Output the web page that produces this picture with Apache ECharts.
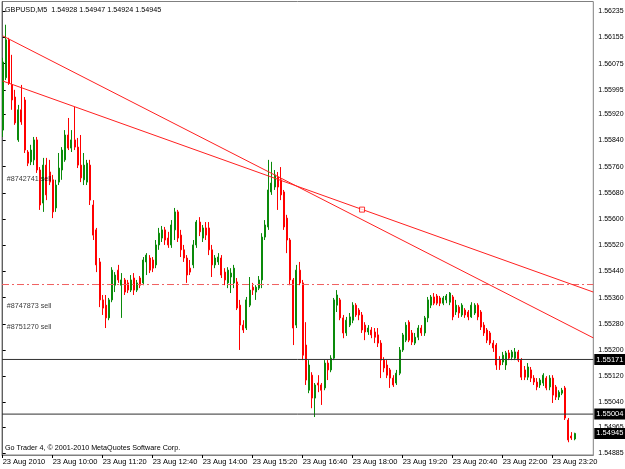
<!DOCTYPE html>
<html><head><meta charset="utf-8">
<script src="https://cdn.jsdelivr.net/npm/echarts@6/dist/echarts.min.js"></script>
<style>html,body{margin:0;padding:0;background:#fff}#c{width:625px;height:469px}</style>
</head><body><div id="c"></div>
<script>
const symbolName = "GBPUSD,M5";
const opens = [
1.55872,1.56032,1.56148,1.56010,1.55973,1.55842,1.55934,1.55964,1.55805,1.55775,
1.55781,1.55842,1.55750,1.55649,1.55765,1.55744,1.55720,1.55634,1.55713,1.55750,
1.55781,1.55857,1.55817,1.55842,1.55820,1.55765,1.55720,1.55713,1.55765,1.55643,
1.55567,1.55469,1.55353,1.55337,1.55298,1.55353,1.55398,1.55444,1.55398,1.55414,
1.55405,1.55383,1.55420,1.55383,1.55420,1.55405,1.55469,1.55481,1.55475,1.55460,
1.55521,1.55542,1.55567,1.55542,1.55521,1.55567,1.55622,1.55551,1.55506,1.55481,
1.55450,1.55460,1.55521,1.55591,1.55542,1.55573,1.55573,1.55506,1.55460,1.55469,
1.55481,1.55438,1.55405,1.55423,1.55405,1.55408,1.55337,1.55276,1.55267,1.55337,
1.55392,1.55377,1.55389,1.55414,1.55545,1.55576,1.55683,1.55698,1.55729,1.55720,
1.55683,1.55603,1.55536,1.55414,1.55276,1.55444,1.55405,1.55215,1.55077,1.55123,
1.55053,1.55099,1.55093,1.55084,1.55160,1.55139,1.55175,1.55337,1.55353,1.55298,
1.55252,1.55276,1.55291,1.55337,1.55322,1.55307,1.55276,1.55255,1.55261,1.55255,
1.55246,1.55221,1.55169,1.55154,1.55139,1.55114,1.55099,1.55129,1.55200,1.55230,
1.55285,1.55252,1.55221,1.55239,1.55267,1.55252,1.55298,1.55337,1.55362,1.55365,
1.55359,1.55343,1.55353,1.55346,1.55362,1.55316,1.55331,1.55307,1.55322,1.55316,
1.55301,1.55313,1.55337,1.55316,1.55276,1.55261,1.55252,1.55221,1.55215,1.55169,
1.55163,1.55154,1.55191,1.55178,1.55175,1.55194,1.55169,1.55139,1.55117,1.55139,
1.55114,1.55102,1.55093,1.55099,1.55114,1.55087,1.55114,1.55087,1.55056,1.55068,
1.55084,1.54986,1.54937,1.54928];
const closes = [
1.56080,1.56148,1.56016,1.55964,1.55894,1.55934,1.55897,1.55811,1.55771,1.55811,
1.55842,1.55750,1.55643,1.55765,1.55674,1.55713,1.55622,1.55704,1.55756,1.55811,
1.55857,1.55817,1.55842,1.55820,1.55765,1.55726,1.55765,1.55771,1.55658,1.55551,
1.55460,1.55353,1.55328,1.55298,1.55353,1.55444,1.55429,1.55414,1.55414,1.55377,
1.55383,1.55414,1.55383,1.55405,1.55398,1.55475,1.55490,1.55444,1.55450,1.55521,
1.55557,1.55567,1.55536,1.55521,1.55582,1.55622,1.55542,1.55506,1.55481,1.55429,
1.55438,1.55521,1.55591,1.55561,1.55573,1.55551,1.55506,1.55460,1.55481,1.55484,
1.55429,1.55414,1.55444,1.55435,1.55450,1.55328,1.55276,1.55261,1.55353,1.55383,
1.55383,1.55392,1.55414,1.55545,1.55582,1.55689,1.55710,1.55735,1.55698,1.55674,
1.55576,1.55536,1.55414,1.55267,1.55444,1.55405,1.55184,1.55108,1.55154,1.55053,
1.55093,1.55093,1.55077,1.55160,1.55139,1.55175,1.55353,1.55368,1.55298,1.55252,
1.55291,1.55301,1.55337,1.55307,1.55307,1.55261,1.55255,1.55267,1.55246,1.55239,
1.55221,1.55169,1.55145,1.55123,1.55114,1.55093,1.55129,1.55200,1.55246,1.55276,
1.55230,1.55224,1.55239,1.55267,1.55252,1.55298,1.55353,1.55362,1.55343,1.55343,
1.55343,1.55359,1.55365,1.55374,1.55301,1.55337,1.55313,1.55337,1.55307,1.55301,
1.55337,1.55337,1.55301,1.55270,1.55252,1.55230,1.55221,1.55206,1.55154,1.55154,
1.55184,1.55191,1.55175,1.55194,1.55194,1.55169,1.55117,1.55117,1.55148,1.55114,
1.55102,1.55087,1.55108,1.55123,1.55084,1.55114,1.55062,1.55056,1.55071,1.55077,
1.54992,1.54925,1.54931,1.54945];
const lows = [
1.55851,1.56025,1.56010,1.55934,1.55888,1.55836,1.55888,1.55802,1.55762,1.55765,
1.55765,1.55741,1.55628,1.55622,1.55658,1.55704,1.55603,1.55622,1.55704,1.55720,
1.55775,1.55811,1.55805,1.55811,1.55756,1.55713,1.55704,1.55704,1.55643,1.55536,
1.55438,1.55331,1.55307,1.55267,1.55291,1.55346,1.55377,1.55405,1.55298,1.55368,
1.55374,1.55377,1.55368,1.55377,1.55389,1.55398,1.55429,1.55435,1.55438,1.55450,
1.55506,1.55530,1.55521,1.55512,1.55512,1.55536,1.55530,1.55484,1.55469,1.55405,
1.55429,1.55450,1.55512,1.55548,1.55530,1.55536,1.55490,1.55423,1.55450,1.55460,
1.55420,1.55398,1.55389,1.55374,1.55389,1.55322,1.55200,1.55252,1.55261,1.55331,
1.55368,1.55353,1.55383,1.55389,1.55536,1.55567,1.55674,1.55689,1.55628,1.55658,
1.55567,1.55496,1.55398,1.55215,1.55267,1.55398,1.55169,1.55093,1.55068,1.55022,
1.54995,1.55071,1.55032,1.55077,1.55108,1.55132,1.55169,1.55316,1.55291,1.55236,
1.55243,1.55270,1.55282,1.55301,1.55291,1.55252,1.55230,1.55246,1.55236,1.55221,
1.55209,1.55114,1.55132,1.55114,1.55084,1.55087,1.55093,1.55123,1.55194,1.55224,
1.55224,1.55215,1.55215,1.55230,1.55243,1.55243,1.55285,1.55328,1.55337,1.55337,
1.55334,1.55337,1.55343,1.55337,1.55291,1.55307,1.55298,1.55301,1.55298,1.55291,
1.55298,1.55307,1.55291,1.55261,1.55243,1.55221,1.55215,1.55194,1.55139,1.55139,
1.55154,1.55139,1.55169,1.55169,1.55169,1.55163,1.55108,1.55108,1.55108,1.55102,
1.55093,1.55077,1.55084,1.55090,1.55077,1.55077,1.55038,1.55047,1.55047,1.55062,
1.54986,1.54918,1.54925,1.54924];
const highs = [
1.56093,1.56194,1.56154,1.56102,1.55995,1.55949,1.56010,1.55973,1.55811,1.55827,
1.55851,1.55851,1.55759,1.55787,1.55787,1.55781,1.55735,1.55720,1.55802,1.55820,
1.55872,1.55909,1.55872,1.55943,1.55848,1.55857,1.55802,1.55781,1.55781,1.55658,
1.55573,1.55481,1.55368,1.55368,1.55359,1.55453,1.55438,1.55460,1.55435,1.55420,
1.55414,1.55429,1.55435,1.55414,1.55426,1.55484,1.55496,1.55490,1.55484,1.55536,
1.55573,1.55579,1.55576,1.55561,1.55597,1.55634,1.55628,1.55567,1.55521,1.55490,
1.55475,1.55536,1.55597,1.55606,1.55582,1.55591,1.55591,1.55521,1.55490,1.55496,
1.55490,1.55450,1.55453,1.55450,1.55460,1.55420,1.55353,1.55291,1.55362,1.55423,
1.55405,1.55398,1.55426,1.55557,1.55597,1.55781,1.55775,1.55750,1.55744,1.55759,
1.55689,1.55613,1.55542,1.55420,1.55460,1.55469,1.55414,1.55285,1.55169,1.55132,
1.55099,1.55123,1.55099,1.55169,1.55169,1.55184,1.55359,1.55383,1.55359,1.55307,
1.55301,1.55313,1.55346,1.55343,1.55328,1.55316,1.55285,1.55276,1.55270,1.55267,
1.55267,1.55230,1.55178,1.55169,1.55145,1.55123,1.55139,1.55209,1.55252,1.55285,
1.55291,1.55261,1.55252,1.55276,1.55276,1.55304,1.55362,1.55368,1.55374,1.55371,
1.55365,1.55365,1.55371,1.55377,1.55368,1.55353,1.55337,1.55343,1.55328,1.55322,
1.55346,1.55343,1.55343,1.55322,1.55285,1.55267,1.55258,1.55230,1.55221,1.55181,
1.55194,1.55197,1.55200,1.55200,1.55206,1.55200,1.55175,1.55151,1.55160,1.55148,
1.55123,1.55114,1.55114,1.55129,1.55120,1.55123,1.55123,1.55093,1.55077,1.55084,
1.55090,1.54992,1.54949,1.54947];

const xTickIndex = [0,16,32,48,64,80,96,112,128,144,160,176];
const xTickLabels = ["23 Aug 2010","23 Aug 10:00","23 Aug 11:20","23 Aug 12:40","23 Aug 14:00","23 Aug 15:20",
  "23 Aug 16:40","23 Aug 18:00","23 Aug 19:20","23 Aug 20:40","23 Aug 22:00","23 Aug 23:20"];
const yTickValues = [1.56235,1.56155,1.56075,1.55995,1.55920,1.55840,1.55760,1.55680,1.55600,
  1.55520,1.55440,1.55360,1.55280,1.55200,1.55120,1.55040,1.54965,1.54885];

const trendLineA = [[0, 1.56160], [189, 1.55237]];
const trendLineB = [[0, 1.56022], [189, 1.55377]];
const trendAnchorB = [[115, 1.55629]];
const orderLevel = 1.55400;
const priceLevels = [1.55171, 1.55004];
const bidPrice = 1.54945;
const orderLabelTexts = ["#8742741 sell", "#8747873 sell", "#8751270 sell"];
const orderLabelPrices = [1.55723, 1.55335, 1.55269];

const X_MIN = -0.22, X_MAX = 189, Y_MIN = 1.54879, Y_MAX = 1.56265;
const FONT = "'Liberation Sans', Arial, sans-serif";
const last = opens.length - 1;
const f5 = v => v.toFixed(5);
const candles = opens.map((o, k) => [k, o, closes[k], lows[k], highs[k]]);
const boxLabel = {show: true, distance: 1, backgroundColor: '#000', color: '#fff',
  padding: [2, 3, 1, 2], fontSize: 7.5, fontFamily: FONT};

function levelSeries(p, lineStyle, withLabel) {
  return {
    type: 'line', data: [[X_MIN, p], [X_MAX, p]], symbol: 'none', silent: true, z: 3,
    lineStyle: lineStyle,
    endLabel: withLabel ? Object.assign({formatter: () => f5(p)}, boxLabel) : {show: false}
  };
}

const chart = echarts.init(document.getElementById('c'), null, {renderer: 'canvas'});
chart.setOption({
  animation: false,
  backgroundColor: '#ffffff',
  title: [
    {text: symbolName + '  ' + [opens[last], highs[last], lows[last], closes[last]].map(f5).join(' '),
     left: 5, top: 7, padding: 0,
     textStyle: {fontSize: 7.2, fontWeight: 'normal', color: '#000', fontFamily: FONT}},
    {text: 'Go Trader 4, \u00a9 2001-2010 MetaQuotes Software Corp.',
     left: 5, top: 445, padding: 0,
     textStyle: {fontSize: 7.2, fontWeight: 'normal', color: '#000', fontFamily: FONT}}
  ],
  grid: {left: 2, right: 31.7, top: 1.5, bottom: 14, show: true, borderColor: '#808080',
         borderWidth: 1, backgroundColor: '#fff', containLabel: false, outerBoundsMode: 'none'},
  xAxis: {
    type: 'value', min: X_MIN, max: X_MAX,
    axisLine: {show: true, lineStyle: {color: '#808080', width: 1}},
    axisTick: {show: true, length: 3, customValues: xTickIndex, lineStyle: {color: '#000'}},
    axisLabel: {show: true, customValues: xTickIndex, align: 'left', margin: 3,
      fontSize: 7.5, color: '#000', fontFamily: FONT,
      formatter: v => xTickLabels[xTickIndex.indexOf(Math.round(v))] || ''},
    splitLine: {show: false}
  },
  yAxis: {
    type: 'value', position: 'right', min: Y_MIN, max: Y_MAX,
    axisLine: {show: true, lineStyle: {color: '#606060', width: 1}},
    axisTick: {show: true, length: 3, customValues: yTickValues, lineStyle: {color: '#000'}},
    axisLabel: {show: true, customValues: yTickValues, margin: 5, fontSize: 7, color: '#000',
      fontFamily: FONT, formatter: v => f5(v)},
    splitLine: {show: false}
  },
  series: [
    {
      type: 'candlestick', data: candles, barWidth: 1.6, silent: true,
      encode: {x: 0, y: [1, 2, 3, 4]},
      itemStyle: {color: '#0a8a0a', color0: '#ff0000', borderColor: '#0a8a0a', borderColor0: '#ff0000', borderWidth: 1},
      z: 2
    },
    levelSeries(orderLevel, {color: '#f06060', width: 1, type: [7, 3, 2, 3]}, false),
    levelSeries(priceLevels[0], {color: '#303030', width: 1}, true),
    levelSeries(priceLevels[1], {color: '#303030', width: 1}, true),
    levelSeries(bidPrice, {color: 'rgba(0,0,0,0)', width: 1}, true),
    {type: 'line', data: trendLineA, symbol: 'none', silent: true, z: 4, clip: true,
     lineStyle: {color: '#ff2020', width: 1}},
    {type: 'line', data: trendLineB, symbol: 'none', silent: true, z: 4, clip: true,
     lineStyle: {color: '#ff2020', width: 1}},
    {type: 'scatter', data: trendAnchorB, symbol: 'rect', symbolSize: 5, silent: true, z: 5,
     itemStyle: {color: '#fff', borderColor: '#ff0000', borderWidth: 1}},
    {type: 'scatter', silent: true, z: 6, symbolSize: 0,
     data: orderLabelPrices.map((p, k) => ({value: [0, p], name: orderLabelTexts[k]})),
     label: {show: true, position: 'right', distance: 4, formatter: p => p.name,
       fontSize: 7.2, color: '#000', fontFamily: FONT}}
  ]
});
</script>
</body></html>
